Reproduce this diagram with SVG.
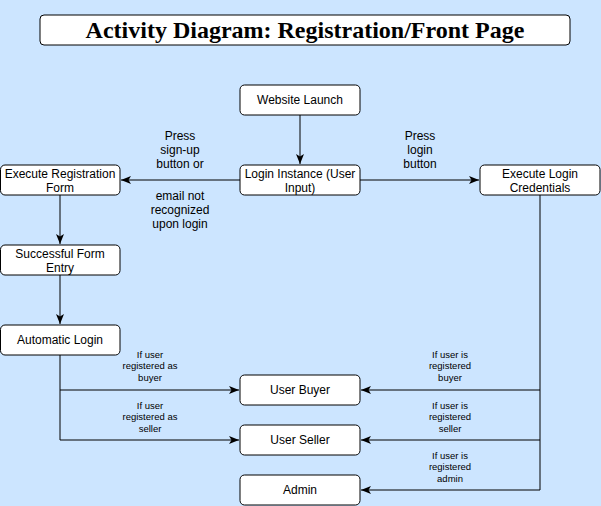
<svg xmlns="http://www.w3.org/2000/svg" width="601" height="506" viewBox="0 0 601 506">
<defs>
<style>
.node rect{fill:#ffffff;stroke:#000000;stroke-width:1}
.nt{font-family:"Liberation Sans",Arial,sans-serif;font-size:12px;fill:#000000;text-anchor:middle}
.lbl{font-family:"Liberation Sans",Arial,sans-serif;font-size:12px;fill:#000000;text-anchor:middle}
.sl{font-family:"Liberation Sans",Arial,sans-serif;font-size:9.5px;fill:#000000;text-anchor:middle}
.title{font-family:"Liberation Serif","Times New Roman",serif;font-size:24px;font-weight:bold;fill:#000000;text-anchor:middle}
.edge{fill:none;stroke:#000000;stroke-width:1}
</style>
<marker id="arr" viewBox="0 0 10 10" refX="10" refY="5" markerWidth="10" markerHeight="10" markerUnits="userSpaceOnUse" orient="auto">
<path d="M0,1 L10,5 L0,9 L2.5,5 Z" fill="#000000"/>
</marker>
</defs>
<rect x="0" y="0" width="601" height="506" fill="#cce5ff"/>

<g id="title" class="node">
<rect x="40" y="15" width="530" height="30" rx="4" ry="4"/>
<text class="title" x="305" y="38">Activity Diagram: Registration/Front Page</text>
</g>

<g id="connectors">
<path class="edge" d="M300,115 L300,164" marker-end="url(#arr)"/>
<path class="edge" d="M240,180 L121,180" marker-end="url(#arr)"/>
<path class="edge" d="M360,180 L479,180" marker-end="url(#arr)"/>
<path class="edge" d="M60,195 L60,244" marker-end="url(#arr)"/>
<path class="edge" d="M60,275 L60,324" marker-end="url(#arr)"/>
<path class="edge" d="M60,355 L60,390 L239,390" marker-end="url(#arr)"/>
<path class="edge" d="M60,390 L60,440 L239,440" marker-end="url(#arr)"/>
<path class="edge" d="M540,195 L540,390 L361,390" marker-end="url(#arr)"/>
<path class="edge" d="M540,390 L540,440 L361,440" marker-end="url(#arr)"/>
<path class="edge" d="M540,440 L540,490 L361,490" marker-end="url(#arr)"/>
<text class="lbl" x="180" y="140">Press</text>
<text class="lbl" x="180" y="154">sign-up</text>
<text class="lbl" x="180" y="168">button or</text>
<text class="lbl" x="180" y="200">email not</text>
<text class="lbl" x="180" y="214">recognized</text>
<text class="lbl" x="180" y="228">upon login</text>
<text class="lbl" x="420" y="140">Press</text>
<text class="lbl" x="420" y="154">login</text>
<text class="lbl" x="420" y="168">button</text>
<text class="sl" x="150" y="357.5">If user</text>
<text class="sl" x="150" y="369.2">registered as</text>
<text class="sl" x="150" y="380.9">buyer</text>
<text class="sl" x="150" y="408.5">If user</text>
<text class="sl" x="150" y="420.2">registered as</text>
<text class="sl" x="150" y="431.9">seller</text>
<text class="sl" x="450" y="357.5">If user is</text>
<text class="sl" x="450" y="369.2">registered</text>
<text class="sl" x="450" y="380.9">buyer</text>
<text class="sl" x="450" y="408.5">If user is</text>
<text class="sl" x="450" y="420.2">registered</text>
<text class="sl" x="450" y="431.9">seller</text>
<text class="sl" x="450" y="458.5">If user is</text>
<text class="sl" x="450" y="470.2">registered</text>
<text class="sl" x="450" y="481.9">admin</text>
</g>

<g id="website-launch" class="node">
<rect x="240" y="85" width="120" height="30" rx="4.5" ry="4.5"/>
<text class="nt" x="300" y="104.3">Website Launch</text>
</g>
<g id="login-instance" class="node">
<rect x="240" y="165" width="120" height="30" rx="4.5" ry="4.5"/>
<text class="nt" x="300" y="177.5">Login Instance (User</text>
<text class="nt" x="300" y="191.5">Input)</text>
</g>
<g id="execute-registration" class="node">
<rect x="0.5" y="165" width="119.5" height="30" rx="4.5" ry="4.5"/>
<text class="nt" x="60" y="177.5">Execute Registration</text>
<text class="nt" x="60" y="191.5">Form</text>
</g>
<g id="execute-login" class="node">
<rect x="480" y="165" width="120" height="30" rx="4.5" ry="4.5"/>
<text class="nt" x="540" y="177.5">Execute Login</text>
<text class="nt" x="540" y="191.5">Credentials</text>
</g>
<g id="successful-form" class="node">
<rect x="0.5" y="245" width="119.5" height="30" rx="4.5" ry="4.5"/>
<text class="nt" x="60" y="257.5">Successful Form</text>
<text class="nt" x="60" y="271.5">Entry</text>
</g>
<g id="automatic-login" class="node">
<rect x="0.5" y="325" width="119.5" height="30" rx="4.5" ry="4.5"/>
<text class="nt" x="60" y="344.3">Automatic Login</text>
</g>
<g id="user-buyer" class="node">
<rect x="240" y="375" width="120" height="30" rx="4.5" ry="4.5"/>
<text class="nt" x="300" y="394.3">User Buyer</text>
</g>
<g id="user-seller" class="node">
<rect x="240" y="425" width="120" height="30" rx="4.5" ry="4.5"/>
<text class="nt" x="300" y="444.3">User Seller</text>
</g>
<g id="admin" class="node">
<rect x="240" y="475" width="120" height="30" rx="4.5" ry="4.5"/>
<text class="nt" x="300" y="494.3">Admin</text>
</g>
</svg>
